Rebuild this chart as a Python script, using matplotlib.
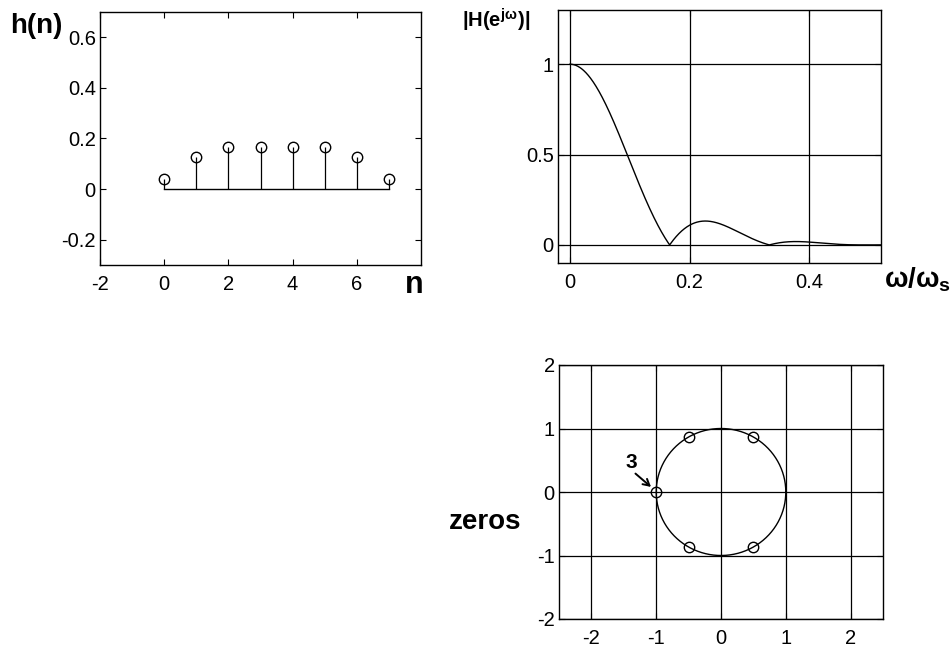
import numpy as np
import matplotlib
matplotlib.use("Agg")
import matplotlib.pyplot as plt

plt.rcParams["font.family"] = ["Liberation Sans", "DejaVu Sans"]
plt.rcParams["mathtext.fontset"] = "custom"
plt.rcParams["mathtext.rm"] = "Liberation Sans:bold"
plt.rcParams["mathtext.it"] = "Liberation Sans:bold"
plt.rcParams["mathtext.bf"] = "Liberation Sans:bold"
plt.rcParams["mathtext.sf"] = "Liberation Sans:bold"

# impulse response of the 8-tap lowpass filter
n_idx = [0, 1, 2, 3, 4, 5, 6, 7]
h = [0.0417, 0.125, 0.1667, 0.1667, 0.1667, 0.1667, 0.125, 0.0417]
n_ticks = [-2, 0, 2, 4, 6]
h_ticks = [-0.2, 0, 0.2, 0.4, 0.6]

# frequency axis (normalised to sampling frequency)
f_ticks = [0, 0.2, 0.4]
mag_ticks = [0, 0.5, 1]

# zeros of H(z); the one at z = -1 is triple
zero_re = [-1.0, -0.5, -0.5, 0.5, 0.5]
zero_im = [0.0, 0.866, -0.866, 0.866, -0.866]
zero_mult = "3"
z_ticks = [-2, -1, 0, 1, 2]

TICK_FS = 14.5
W, H = 953, 653


def frame(ax):
    ax.tick_params(direction="in", top=True, right=True, length=4,
                   width=0.8, labelsize=TICK_FS, colors="black")
    ax.tick_params(axis="x", pad=7.5)
    ax.tick_params(axis="y", pad=3)
    for s in ax.spines.values():
        s.set_linewidth(1.0)
        s.set_color("black")


def grid(ax):
    ax.grid(True, color="black", linewidth=0.9)
    ax.set_axisbelow(True)


fig = plt.figure(figsize=(W / 100, H / 100), dpi=100)

# --- impulse response -------------------------------------------------------
ax1 = fig.add_axes([100 / W, 1 - 265 / H, 321 / W, 253 / H])
markers, stems, base = ax1.stem(n_idx, h, linefmt="k-", markerfmt="ko", basefmt="k-")
markers.set_markerfacecolor("none")
markers.set_markeredgecolor("black")
markers.set_markersize(7.5)
markers.set_markeredgewidth(1.0)
stems.set_linewidth(0.9)
base.set_linewidth(1.0)
ax1.set_xlim(-2, 8)
ax1.set_ylim(-0.3, 0.7)
ax1.set_xticks(n_ticks)
ax1.set_yticks(h_ticks)
ax1.set_xticklabels([str(v) for v in n_ticks])
ax1.set_yticklabels(["-0.2", "0", "0.2", "0.4", "0.6"])
frame(ax1)
fig.text(10 / W, 1 - 33 / H, "h(n)", fontsize=20, fontweight="bold",
         ha="left", va="baseline")
fig.text(414.5 / W, 1 - 293 / H, "n", fontsize=22, fontweight="bold",
         ha="center", va="baseline")

# --- magnitude response -----------------------------------------------------
ax2 = fig.add_axes([558 / W, 1 - 263 / H, 323 / W, 253 / H])
f = np.linspace(0, 0.52, 800)
kern = np.exp(-2j * np.pi * np.outer(f, n_idx))
mag = np.abs(kern @ np.asarray(h))
ax2.plot(f, mag, color="black", linewidth=1.0)
ax2.set_xlim(-0.02, 0.52)
ax2.set_ylim(-0.1, 1.3)
ax2.set_xticks(f_ticks)
ax2.set_yticks(mag_ticks)
ax2.set_xticklabels(["0", "0.2", "0.4"])
ax2.set_yticklabels(["0", "0.5", "1"])
grid(ax2)
frame(ax2)
fig.text(462 / W, 1 - 28 / H, r"$|H(e^{j\omega})|$", fontsize=14.5,
         ha="left", va="baseline")
fig.text(884 / W, 1 - 287 / H, r"$\omega/\omega_{s}$", fontsize=20,
         ha="left", va="baseline")

# --- zero plot ----------------------------------------------------------------
ax3 = fig.add_axes([559 / W, 1 - 619 / H, 324 / W, 254 / H])
t = np.linspace(0, 2 * np.pi, 400)
ax3.plot(np.cos(t), np.sin(t), color="black", linewidth=1.0)
ax3.plot(zero_re, zero_im, linestyle="none", marker="o", markersize=7.5,
         markerfacecolor="none", markeredgecolor="black", markeredgewidth=1.0)
# multiplicity of the zero at z = -1
ax3.text(-1.38, 0.47, zero_mult, fontsize=15, fontweight="bold",
         ha="center", va="center")
ax3.annotate("", xy=(zero_re[0] - 0.08, zero_im[0] + 0.08), xytext=(-1.32, 0.29),
             arrowprops=dict(arrowstyle="->,head_length=0.45,head_width=0.25",
                             color="black", lw=1.4, shrinkA=0, shrinkB=0))
ax3.set_xlim(-2.5, 2.5)
ax3.set_ylim(-2, 2)
ax3.set_xticks(z_ticks)
ax3.set_yticks(z_ticks)
ax3.set_xticklabels([str(v) for v in z_ticks])
ax3.set_yticklabels([str(v) for v in z_ticks])
grid(ax3)
frame(ax3)
fig.text(485 / W, 1 - 529 / H, "zeros", fontsize=20, fontweight="bold",
         ha="center", va="baseline")

fig.savefig("out.png", dpi=100, facecolor="white")
